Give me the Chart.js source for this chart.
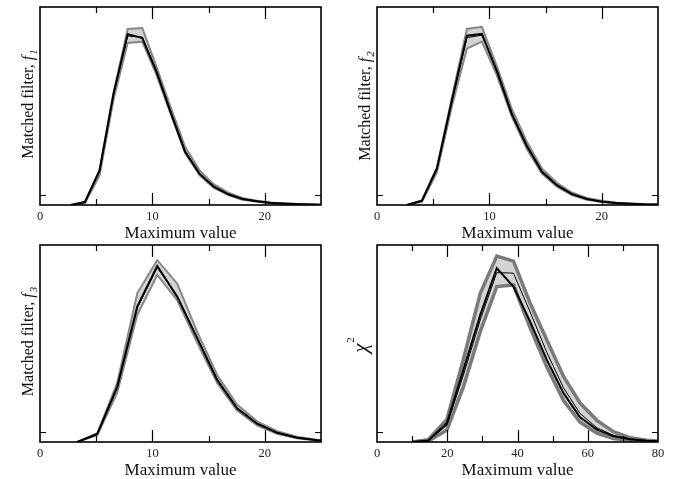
<!DOCTYPE html>
<html>
<head>
<meta charset="utf-8">
<script src="https://cdn.jsdelivr.net/npm/chart.js@4.4.0/dist/chart.umd.min.js"></script>
<style>
  body { margin: 0; background: #fff; }
  #wrap { position: relative; width: 688px; height: 479px; overflow: hidden; }
  canvas { position: absolute; }
</style>
</head>
<body>
<div id="wrap">
  <canvas id="c1" width="344" height="240" style="left:0;top:0"></canvas>
  <canvas id="c2" width="344" height="240" style="left:344px;top:0"></canvas>
  <canvas id="c3" width="344" height="240" style="left:0;top:237px"></canvas>
  <canvas id="c4" width="344" height="240" style="left:344px;top:237px"></canvas>
</div>
<script>
// Matched filter f1
const p1X     = [2.75, 4.0, 5.3, 6.55, 7.8, 9.1, 10.35, 11.65, 12.9, 14.2, 15.45, 16.75, 18.0, 19.3, 20.55, 21.8, 23.1, 24.35, 25.6];
const p1Thick = [0, 0.015, 0.174, 0.565, 0.863, 0.843, 0.675, 0.464, 0.27, 0.157, 0.093, 0.054, 0.03, 0.019, 0.01, 0.007, 0.004, 0.002, 0.001];
const p1Thin  = [0, 0.014, 0.17, 0.56, 0.853, 0.848, 0.68, 0.47, 0.275, 0.16, 0.095, 0.056, 0.031, 0.019, 0.011, 0.007, 0.004, 0.002, 0.001];
const p1Upper = [0, 0.016, 0.178, 0.57, 0.889, 0.894, 0.70, 0.49, 0.295, 0.175, 0.105, 0.062, 0.036, 0.022, 0.013, 0.008, 0.005, 0.003, 0.001];
const p1Lower = [0, 0.01, 0.15, 0.535, 0.818, 0.825, 0.66, 0.455, 0.262, 0.15, 0.088, 0.05, 0.027, 0.016, 0.009, 0.005, 0.003, 0.001, 0];

// Matched filter f2
const p2X     = [2.67, 4.0, 5.33, 6.67, 8.0, 9.33, 10.67, 12.0, 13.33, 14.67, 16.0, 17.33, 18.67, 20.0, 21.33, 22.67, 24.0, 25.33];
const p2Thick = [0, 0.022, 0.185, 0.53, 0.855, 0.864, 0.675, 0.458, 0.298, 0.168, 0.1, 0.055, 0.03, 0.017, 0.01, 0.006, 0.003, 0.002];
const p2Thin  = [0, 0.02, 0.18, 0.525, 0.845, 0.858, 0.68, 0.465, 0.302, 0.172, 0.102, 0.057, 0.031, 0.018, 0.01, 0.006, 0.003, 0.002];
const p2Upper = [0, 0.024, 0.19, 0.545, 0.889, 0.90, 0.70, 0.485, 0.32, 0.185, 0.112, 0.063, 0.036, 0.021, 0.012, 0.007, 0.004, 0.002];
const p2Lower = [0, 0.016, 0.165, 0.5, 0.79, 0.825, 0.655, 0.445, 0.283, 0.158, 0.092, 0.05, 0.027, 0.015, 0.008, 0.005, 0.002, 0.001];

// Matched filter f3
const p3X     = [3.32, 5.1, 6.87, 8.65, 10.43, 12.2, 13.98, 15.76, 17.53, 19.31, 21.09, 22.87, 24.64, 26.42];
const p3Thick = [0, 0.041, 0.28, 0.687, 0.893, 0.738, 0.527, 0.315, 0.171, 0.093, 0.047, 0.022, 0.009, 0.004];
const p3Thin  = [0, 0.04, 0.275, 0.68, 0.885, 0.742, 0.532, 0.32, 0.174, 0.095, 0.048, 0.023, 0.01, 0.004];
const p3Upper = [0, 0.045, 0.30, 0.755, 0.923, 0.805, 0.56, 0.34, 0.19, 0.105, 0.055, 0.027, 0.012, 0.005];
const p3Lower = [0, 0.035, 0.25, 0.645, 0.848, 0.72, 0.505, 0.3, 0.16, 0.085, 0.042, 0.019, 0.008, 0.003];

// chi^2
const p4X     = [10.0, 14.6, 19.9, 24.6, 29.4, 34.1, 38.85, 43.6, 48.35, 53.1, 57.8, 62.6, 67.3, 72.0, 76.8, 81.5];
const p4Thick = [0, 0.008, 0.096, 0.366, 0.645, 0.882, 0.789, 0.611, 0.417, 0.248, 0.125, 0.063, 0.03, 0.014, 0.006, 0.002];
const p4Thin  = [0, 0.006, 0.085, 0.34, 0.62, 0.86, 0.857, 0.66, 0.455, 0.275, 0.145, 0.072, 0.034, 0.016, 0.007, 0.003];
const p4Upper = [0, 0.012, 0.115, 0.42, 0.755, 0.944, 0.918, 0.705, 0.518, 0.333, 0.198, 0.11, 0.052, 0.022, 0.009, 0.003];
const p4Lower = [0, 0.004, 0.06, 0.28, 0.56, 0.789, 0.797, 0.58, 0.38, 0.21, 0.1, 0.045, 0.018, 0.008, 0.003, 0.001];

const SERIF = 'Liberation Serif, serif';
const LIGHT = '#d4d4d4';

function filterTitle(n) {
  return [
    { text: 'Matched filter, ', font: 'normal 16px ' + SERIF },
    { text: 'f', font: 'italic 16px ' + SERIF, gap: 1 },
    { text: n, font: 'italic 11px ' + SERIF, shift: 4 }
  ];
}

// y titles kept outside chart options (the options proxy mangles nested arrays)
const yTitles = {
  c1: { x: 33, dy: -2, parts: filterTitle('1') },
  c2: { x: 26, dy: 0, parts: filterTitle('2') },
  c3: { x: 33, dy: -2, parts: filterTitle('3') },
  c4: { x: 23, dy: 1.5, parts: [
    { text: 'χ', font: 'italic 21px ' + SERIF, gap: 1 },
    { text: '2', font: 'normal 11px ' + SERIF, shift: -13 }
  ] }
};

// frame box with inward ticks, like the original plotting package
const framePlugin = {
  id: 'frame',
  afterDatasetsDraw(chart, args, o) {
    const ctx = chart.ctx, a = chart.chartArea;
    const xs = chart.scales.x, ys = chart.scales.y;
    ctx.save();
    ctx.strokeStyle = '#000';
    ctx.lineWidth = 1.2;
    for (let i = 1; i * o.minor < xs.max; i++) {
      const v = i * o.minor;
      const px = Math.round(xs.getPixelForValue(v)) + 0.5;
      const len = (i % (o.major / o.minor) === 0) ? 12 : 6;
      ctx.beginPath();
      ctx.moveTo(px, a.bottom); ctx.lineTo(px, a.bottom - len);
      ctx.moveTo(px, a.top); ctx.lineTo(px, a.top + len);
      ctx.stroke();
    }
    const py = Math.round(ys.getPixelForValue(0.05)) + 0.5;
    ctx.beginPath();
    ctx.moveTo(a.left, py); ctx.lineTo(a.left + 6, py);
    ctx.moveTo(a.right, py); ctx.lineTo(a.right - 6, py);
    ctx.stroke();
    ctx.lineWidth = 1.6;
    ctx.strokeRect(a.left, a.top, a.right - a.left, a.bottom - a.top);
    ctx.restore();
  }
};

// rotated y title made of styled pieces (italic f, subscripts)
const yTitlePlugin = {
  id: 'ytitle',
  afterDraw(chart) {
    const t = yTitles[chart.canvas.id];
    const ctx = chart.ctx, a = chart.chartArea;
    const widths = t.parts.map(p => {
      ctx.font = p.font;
      return ctx.measureText(p.text).width + (p.gap || 0);
    });
    const total = widths.reduce((s, w) => s + w, 0);
    let y = (a.top + a.bottom) / 2 + t.dy + total / 2;
    t.parts.forEach((p, i) => {
      ctx.save();
      ctx.translate(t.x + (p.shift || 0), y);
      ctx.rotate(-Math.PI / 2);
      ctx.font = p.font;
      ctx.fillStyle = '#111111';
      ctx.textAlign = 'left';
      ctx.textBaseline = 'alphabetic';
      ctx.fillText(p.text, 0, 0);
      ctx.restore();
      y -= widths[i];
    });
  }
};

function makeChart(id, xs, thick, thin, upper, lower, opts) {
  const pts = vals => xs.map((x, i) => ({ x: x, y: vals[i] }));
  new Chart(document.getElementById(id), {
    type: 'line',
    data: {
      datasets: [
        { data: pts(thick), borderColor: '#000', borderWidth: 2, fill: false },
        { data: pts(thin), borderColor: '#000', borderWidth: 1, fill: false },
        { data: pts(lower), borderColor: opts.dark, borderWidth: opts.band, fill: false },
        { data: pts(upper), borderColor: opts.dark, borderWidth: opts.band, backgroundColor: LIGHT, fill: '-1' }
      ]
    },
    options: {
      responsive: false,
      animation: false,
      devicePixelRatio: 1,
      layout: { padding: opts.pad },
      elements: { point: { radius: 0 }, line: { tension: 0 } },
      datasets: { line: { clip: 0 } },
      scales: {
        x: {
          type: 'linear', min: 0, max: opts.xMax,
          grid: { display: false, drawTicks: false },
          border: { display: false },
          ticks: { stepSize: opts.major, includeBounds: false, padding: 4, maxRotation: 0,
                   color: '#222', font: { family: SERIF, size: 12.5 } },
          title: { display: true, text: 'Maximum value', color: '#111',
                   font: { family: SERIF, size: 17, lineHeight: 0.8 }, padding: { top: 0, bottom: 0 } },
          afterFit(s) { s.height = 35; }
        },
        y: { display: false, min: 0, max: 1 }
      },
      plugins: {
        legend: { display: false },
        tooltip: { enabled: false },
        frame: { major: opts.major, minor: opts.minor }
      }
    },
    plugins: [framePlugin, yTitlePlugin]
  });
}

makeChart('c1', p1X, p1Thick, p1Thin, p1Upper, p1Lower, {
  xMax: 25, major: 10, minor: 5, band: 2, dark: '#888888', pad: { left: 40, right: 23, top: 7, bottom: 0 }
});
makeChart('c2', p2X, p2Thick, p2Thin, p2Upper, p2Lower, {
  xMax: 25, major: 10, minor: 5, band: 2, dark: '#888888', pad: { left: 33, right: 30, top: 7, bottom: 0 }
});
makeChart('c3', p3X, p3Thick, p3Thin, p3Upper, p3Lower, {
  xMax: 25, major: 10, minor: 5, band: 2, dark: '#888888', pad: { left: 40, right: 23, top: 8, bottom: 0 }
});
makeChart('c4', p4X, p4Thick, p4Thin, p4Upper, p4Lower, {
  xMax: 80, major: 20, minor: 10, band: 3.5, dark: '#7a7a7a', pad: { left: 33, right: 30, top: 8, bottom: 0 }
});
</script>
</body>
</html>
